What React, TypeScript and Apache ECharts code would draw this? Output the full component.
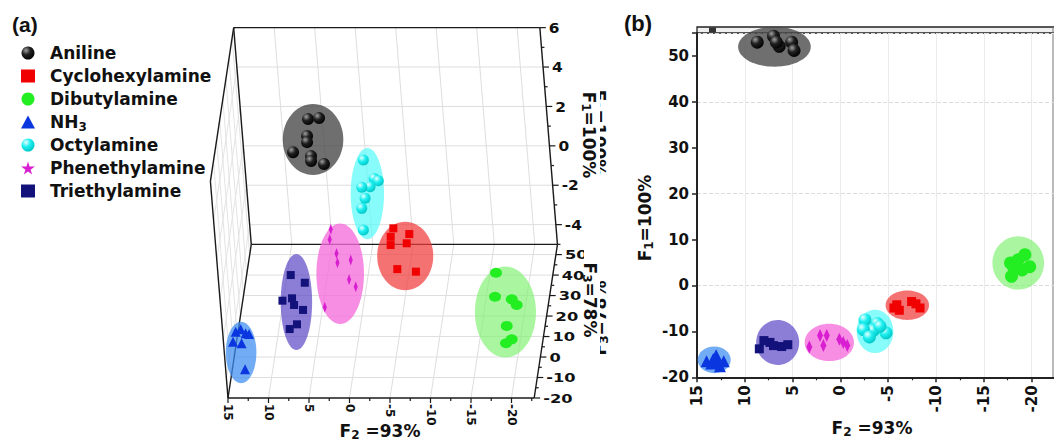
import React, { useEffect, useRef } from "react";
import * as echarts from "echarts";

const NAMES = ["Aniline", "Cyclohexylamine", "Dibutylamine", "NH3", "Octylamine", "Phenethylamine", "Triethylamine"];

// ---------- Panel (a): 3D scores [F2, F1, F3] ----------
const anilineA = [[6.56, 1.67, 52], [5.19, 1.72, 52], [6.85, 0.81, 52], [6.91, 0.5, 52], [8.74, -0.01, 52], [6.56, -0.21, 52], [6.6, -0.46, 52], [5.04, -0.61, 52]];
const cyclohexylamineA = [[-6.19, 1.98, -4.3], [-8.1, 1.69, -4.3], [-5.78, 1.55, -4.3], [-5.69, 1.13, -4.3], [-7.69, 1.22, -4.3], [-6.27, -0.09, -4.3], [-8.54, -0.22, -4.3]];
const dibutylamineA = [[-17.88, -1.23, 4.9], [-17.52, -2.45, 4.9], [-19.56, -2.58, 4.9], [-20.11, -2.87, 4.9], [-18.67, -3.93, 4.9], [-19.15, -4.61, 4.9], [-18.41, -4.81, 4.9]];
const nh3A = [[13.61, -2.03, -16.2], [12.97, -1.91, -16.2], [12.4, -2.11, -16.2], [14.04, -2.54, -16.2], [13.0, -2.62, -16.2], [12.83, -3.94, -16.2], [11.98, -2.15, -16.2]];
const octylamineA = [[-3.27, 5.62, -6], [-4.41, 4.69, -6], [-4.91, 4.57, -6], [-3.83, 4.27, -6], [-2.8, 4.24, -6], [-3.1, 3.68, -6], [-2.59, 3.17, -6], [-2.57, 2.07, -6]];
const phenethylamineA = [[1.07, 2.77, -12.4], [1.3, 2.26, -12.4], [0.6, 1.55, -12.4], [0.58, 1.08, -12.4], [-1.09, 1.21, -12.4], [-0.69, 0.23, -12.4], [-1.44, -0.14, -12.4], [2.59, -1.19, -12.4]];
const triethylamineA = [[6.47, 0.45, -12.4], [4.81, 0.06, -12.4], [7.75, -0.85, -12.4], [6.54, -0.73, -12.4], [6.36, -1.07, -12.4], [5.3, -1.32, -12.4], [7.14, -2.29, -12.4], [6.19, -2.05, -12.4]];
// cluster ellipses (a): [F2, F1, F3 centre, F2 radius, F1 radius]
const ellipsesA = [
  [6.15, 0.63, 52, 3.74, 1.8],
  [-7.38, 0.58, -4.3, 3.46, 1.74],
  [-18.65, -3.23, 4.9, 3.77, 2.31],
  [13.15, -3.09, -16.2, 1.89, 1.56],
  [-3.43, 3.92, -6, 2.06, 2.32],
  [0.35, 0.52, -12.4, 2.94, 2.55],
  [6.04, -0.92, -12.4, 1.94, 2.44],
];
const f2TicksA = [15, 10, 5, 0, -5, -10, -15, -20];
const f1TicksA = [-4, -2, 0, 2, 4, 6];
const f3TicksA = [-20, -10, 0, 10, 20, 30, 40, 50];
const F2_RANGE_A = [-22.8, 15];
const F1_RANGE_A = [-5, 6];
const F3_RANGE_A = [-20, 55];

// ---------- Panel (b): 2D scores [F2, F1] ----------
const anilineB = [[8.7, 53.0], [7.0, 54.3], [6.4, 52.1], [6.7, 53.0], [5.1, 53.0], [4.85, 51.2]];
const cyclohexylamineB = [[-5.6, -4.9], [-6.16, -5.4], [-5.9, -4.2], [-7.45, -3.5], [-7.9, -4.0], [-8.33, -4.9]];
const dibutylamineB = [[-17.8, 4.9], [-18.1, 4.1], [-19.3, 6.7], [-19.8, 4.1], [-17.9, 2.0], [-19.0, 3.4], [-18.6, 5.6]];
const nh3B = [[14.0, -16.5], [13.3, -16.0], [13.0, -15.2], [12.8, -16.8], [12.2, -16.5], [13.5, -17.0], [12.6, -17.6]];
const octylamineB = [[-2.57, -7.5], [-3.86, -8.3], [-3.44, -9.8], [-2.4, -9.6], [-3.03, -11.2], [-4.77, -10.3], [-4.14, -8.9]];
const phenethylamineB = [[3.25, -13.4], [2.13, -10.9], [1.43, -10.9], [1.78, -13.1], [0.11, -11.7], [-0.3, -12.4], [-0.72, -13.1]];
const triethylamineB = [[8.48, -13.8], [8.0, -12.0], [7.37, -12.4], [7.0, -13.1], [6.14, -13.3], [5.5, -12.9]];
// cluster ellipses (b): [F2 centre, F1 centre, F2 radius, F1 radius]
const ellipsesB = [
  [6.9, 52, 3.8, 4.35],
  [-7.0, -4.3, 2.27, 3.2],
  [-18.6, 4.9, 2.7, 5.8],
  [13.2, -16.2, 1.73, 2.9],
  [-3.62, -10.0, 1.92, 4.7],
  [1.16, -12.4, 2.58, 4.06],
  [6.56, -12.4, 2.25, 4.9],
];

const DATA_A = [anilineA, cyclohexylamineA, dibutylamineA, nh3A, octylamineA, phenethylamineA, triethylamineA];
const DATA_B = [anilineB, cyclohexylamineB, dibutylamineB, nh3B, octylamineB, phenethylamineB, triethylamineB];

// ---------- styles ----------
const FONT = "DejaVu Sans";
const SPHERE_BLACK = { type: "radial", x: 0.35, y: 0.3, r: 0.75, colorStops: [{ offset: 0, color: "#a0a0a0" }, { offset: 0.45, color: "#202020" }, { offset: 1, color: "#000" }] };
const SPHERE_CYAN = { type: "radial", x: 0.35, y: 0.3, r: 0.75, colorStops: [{ offset: 0, color: "#eaffff" }, { offset: 0.45, color: "#20f0f0" }, { offset: 1, color: "#00c4c4" }] };
const COLORS: any[] = [SPHERE_BLACK, "#f00000", "#22ee22", "#0a36e0", SPHERE_CYAN, "#d81ed0", "#12127a"];
const SYMBOLS = ["circle", "rect", "circle", "triangle", "circle", "diamond", "rect"];
const SIZE_A: any[] = [12, 8, [12, 10], 10, 11, [4, 11], 8];
const SIZE_B: any[] = [13, 9, 13, 12, 13, [6, 13], 9];
const ELLIPSE_COLORS = ["rgba(70,70,70,0.78)", "rgba(240,60,60,0.72)", "rgba(130,240,115,0.68)", "rgba(60,140,240,0.72)", "rgba(90,250,250,0.72)", "rgba(245,110,220,0.78)", "rgba(95,75,200,0.72)"];
const STAR = "path://M50,0 L61,35 L98,35 L68,57 L79,91 L50,70 L21,91 L32,57 L2,35 L39,35 Z";
const LEGEND_ICONS = ["circle", "rect", "circle", "triangle", "circle", STAR, "rect"];

// oblique projection of the 3D box (a) onto a 2D plane (u along F2, v along F1)
const K1 = 0.1975, K3X = 0.0383, K3Y = 0.104;
function project(f2: number, f1: number, f3: number) {
  return [f2 + (f1 - F1_RANGE_A[0]) * K1 - (f3 - F3_RANGE_A[0]) * K3X, f1 + (f3 - F3_RANGE_A[0]) * K3Y];
}

const frameRender = (params: any, api: any) => {
  const P = (a: number, b: number, c: number) => api.coord(project(a, b, c));
  const ch: any[] = [];
  const ln = (p: number[], q: number[], stroke: string, w: number) =>
    ch.push({ type: "line", shape: { x1: p[0], y1: p[1], x2: q[0], y2: q[1] }, style: { stroke, lineWidth: w } });
  const txt = (x: number, y: number, text: string, size: number, rot = 0, align = "left", sx = 1) =>
    ch.push({ type: "text", x, y, rotation: rot, scaleX: sx, style: { text, fill: "#111", fontSize: size, fontWeight: "bold", fontFamily: FONT, align, verticalAlign: "middle" } });
  const [x0, x1] = [F2_RANGE_A[1], F2_RANGE_A[0]];
  const [y0, y1] = F1_RANGE_A;
  const [z0, z1] = F3_RANGE_A;
  const G = "#dedede";
  // grid lines: back wall (F3 max)
  f1TicksA.filter((t) => t < y1).forEach((t) => ln(P(x0, t, z1), P(x1, t, z1), G, 1));
  f2TicksA.filter((t) => t < x0).forEach((t) => ln(P(t, y0, z1), P(t, y1, z1), G, 1));
  // floor (F1 min)
  f3TicksA.filter((t) => t > z0).forEach((t) => ln(P(x0, y0, t), P(x1, y0, t), G, 1));
  f2TicksA.filter((t) => t < x0).forEach((t) => ln(P(t, y0, z0), P(t, y0, z1), G, 1));
  // left wall (F2 max)
  f1TicksA.filter((t) => t < y1).forEach((t) => ln(P(x0, t, z0), P(x0, t, z1), "#e4e4e4", 1));
  f3TicksA.filter((t) => t > z0).forEach((t) => ln(P(x0, y0, t), P(x0, y1, t), "#e4e4e4", 1));
  // box edges
  const K = "#1a1a1a";
  ln(P(x0, y1, z1), P(x1, y1, z1), K, 1.4);
  ln(P(x0, y0, z1), P(x1, y0, z1), K, 1.4);
  ln(P(x1, y0, z1), P(x1, y1, z1), K, 1.4);
  ln(P(x1, y0, z0), P(x1, y0, z1), K, 1.4);
  ln(P(x0, y0, z0), P(x1, y0, z0), K, 1.4);
  ln(P(x0, y1, z1), P(x0, y1, z0), K, 1.4);
  ln(P(x0, y1, z0), P(x0, y0, z0), K, 1.4);
  ln(P(x0, y0, z0), P(x0, y0, z1), K, 1.4);
  ln(P(x0, y0, z1), P(x0, y1, z1), K, 1.4);
  // F1 axis ticks + labels
  for (let t = y0; t <= y1; t += 1) {
    const p = P(x1, t, z1);
    const major = f1TicksA.includes(t);
    ln(p, [p[0] + (major ? 6 : 3), p[1]], K, 1.2);
    if (major) txt(p[0] + 9, p[1], String(t), 14, 0, "left", 1.1);
  }
  // F3 axis ticks + labels
  for (let t = z0; t <= 50; t += 5) {
    const p = P(x1, y0, t);
    const major = f3TicksA.includes(t);
    ln(p, [p[0] + (major ? 6 : 3), p[1]], K, 1.2);
    if (major) txt(p[0] + 9, p[1], String(t), 13, 0, "left", 1.25);
  }
  // F2 axis ticks + labels
  for (let t = x0; t >= x1; t -= 2.5) {
    const p = P(t, y0, z0);
    const major = f2TicksA.includes(t);
    ln(p, [p[0], p[1] + (major ? 5 : 3)], K, 1.2);
    if (major) txt(p[0], p[1] + 6, String(t), 12, -Math.PI / 2, "left");
  }
  return { type: "group", children: ch };
};

const ellipseRender = (params: any, api: any) => {
  const c = api.coord([api.value(0), api.value(1)]);
  const s = api.size([api.value(2), api.value(3)]);
  return { type: "ellipse", shape: { cx: c[0], cy: c[1], rx: Math.abs(s[0]), ry: Math.abs(s[1]) }, style: { fill: ELLIPSE_COLORS[api.value(4)] } };
};

const subRich = { s: { fontSize: 12, fontWeight: "bold", fontFamily: FONT, lineHeight: 9, verticalAlign: "bottom" } };
const titleStyle = (text: string) => ({ text, fill: "#111", fontSize: 17, fontWeight: "bold", fontFamily: FONT, lineHeight: 19, align: "center", verticalAlign: "middle", rich: subRich });

export default function App() {
  const ref = useRef<HTMLDivElement>(null);
  useEffect(() => {
    const chart = echarts.init(ref.current!, null, { renderer: "svg" });
    const series: any[] = [];
    series.push({ type: "custom", name: "frameA", xAxisIndex: 0, yAxisIndex: 0, silent: true, z: 1, renderItem: frameRender, data: [[0, 0]] });
    series.push({
      type: "custom", name: "ellipsesA", xAxisIndex: 0, yAxisIndex: 0, silent: true, z: 2, renderItem: ellipseRender,
      data: ellipsesA.map((e, i) => { const c = project(e[0], e[1], e[2]); return [c[0], c[1], e[3], e[4], i]; }),
    });
    series.push({
      type: "custom", name: "ellipsesB", xAxisIndex: 1, yAxisIndex: 1, silent: true, z: 2, renderItem: ellipseRender,
      data: ellipsesB.map((e, i) => [e[0], e[1], e[2], e[3], i]),
    });
    NAMES.forEach((name, i) => {
      series.push({
        type: "scatter", name, xAxisIndex: 0, yAxisIndex: 0, z: 3, symbol: SYMBOLS[i], symbolSize: SIZE_A[i],
        itemStyle: { color: COLORS[i], opacity: 1 }, data: DATA_A[i].map((p) => project(p[0], p[1], p[2])),
      });
      series.push({
        type: "scatter", name, xAxisIndex: 1, yAxisIndex: 1, z: 3, symbol: SYMBOLS[i], symbolSize: SIZE_B[i],
        itemStyle: { color: COLORS[i], opacity: 1 }, data: DATA_B[i],
      });
    });

    const labelFont = { fontFamily: FONT, fontWeight: "bold", fontSize: 15, color: "#111" };
    chart.setOption({
      animation: false,
      backgroundColor: "#fff",
      legend: {
        orient: "vertical", left: 16, top: 37, itemGap: 1, itemWidth: 14, itemHeight: 13, selectedMode: false,
        data: NAMES.map((n, i) => ({ name: n, icon: LEGEND_ICONS[i], itemStyle: { color: COLORS[i] } })),
        formatter: (n: string) => (n === "NH3" ? "NH{s|3}" : n),
        textStyle: { fontFamily: FONT, fontWeight: "bold", fontSize: 17, color: "#111", lineHeight: 22, padding: [0, 0, 0, 10],
          rich: { s: { fontSize: 12, fontWeight: "bold", fontFamily: FONT, lineHeight: 11, verticalAlign: "bottom" } } },
      },
      grid: [
        { left: 187.5, top: 23.7, width: 364.5, height: 433.4, outerBoundsMode: "none", containLabel: false },
        { left: 697, top: 33, width: 382.4, height: 344.3, outerBoundsMode: "none", containLabel: false },
      ],
      xAxis: [
        { gridIndex: 0, type: "value", min: -25, max: 20, inverse: true, show: false },
        {
          gridIndex: 1, type: "value", min: -25, max: 15, interval: 5, inverse: true,
          axisLine: { onZero: false, lineStyle: { color: "#222", width: 2 } },
          axisTick: { length: 5, lineStyle: { color: "#222", width: 1.5 } },
          minorTick: { show: true, splitNumber: 2, length: 3, lineStyle: { color: "#222", width: 1.2 } },
          axisLabel: { ...labelFont, rotate: 90, margin: 8, formatter: (v: number) => (v < -22 ? "" : String(v)) },
          splitLine: { show: true, lineStyle: { color: "#ebebeb", width: 1 } },
        },
      ],
      yAxis: [
        { gridIndex: 0, type: "value", min: -8, max: 14, show: false },
        {
          gridIndex: 1, type: "value", min: -20, max: 55, interval: 10,
          axisLine: { show: true, onZero: false, lineStyle: { color: "#222", width: 2 } },
          axisTick: { show: true, length: 5, lineStyle: { color: "#222", width: 1.5 } },
          axisLabel: { ...labelFont, margin: 8, formatter: (v: number) => (v % 10 === 0 ? String(v) : "") },
          splitLine: { show: false },
        },
        {
          gridIndex: 1, type: "value", min: -20, max: 55, interval: 20,
          axisLine: { show: false, onZero: false }, axisTick: { show: false }, axisLabel: { show: false },
          splitLine: { show: true, lineStyle: { color: "#dcdcdc", type: "dashed", width: 1 } },
        },
      ],
      graphic: [
        { type: "text", x: 12, y: 14, style: { text: "(a)", fill: "#111", fontSize: 21, fontWeight: "bold", fontFamily: "Liberation Sans", align: "left", verticalAlign: "top" } },
        { type: "text", x: 624, y: 12, style: { text: "(b)", fill: "#111", fontSize: 22, fontWeight: "bold", fontFamily: "Liberation Sans", align: "left", verticalAlign: "top" } },
        { type: "text", x: 380, y: 431, style: titleStyle("F{s|2} =93%") },
        // left-over labels peeking out at the panel seam
        { type: "text", z: 1, x: 598.5, y: 133, rotation: -Math.PI / 2, style: titleStyle("F{s|1}=100%") },
        { type: "text", z: 1, x: 600, y: 318, rotation: Math.PI / 2, style: titleStyle("F{s|3}=78%") },
        { type: "rect", z: 2, shape: { x: 584, y: 85, width: 16, height: 280 }, style: { fill: "#fff" } },
        { type: "text", z: 3, x: 589, y: 135, rotation: -Math.PI / 2, style: titleStyle("F{s|1}=100%") },
        { type: "text", z: 3, x: 590, y: 300, rotation: -Math.PI / 2, style: titleStyle("F{s|3}=78%") },
        { type: "text", x: 872, y: 428, style: titleStyle("F{s|2} =93%") },
        { type: "text", x: 645, y: 218, rotation: Math.PI / 2, style: titleStyle("F{s|1}=100%") },
        { type: "rect", shape: { x: 697, y: 27, width: 370, height: 6 }, style: { fill: "#efefef", stroke: "#222", lineWidth: 1.3 } },
        { type: "rect", shape: { x: 709, y: 27.5, width: 7, height: 5 }, style: { fill: "#333" } },
        { type: "line", shape: { x1: 1053, y1: 27, x2: 1053, y2: 377 }, style: { stroke: "#777", lineWidth: 1 } },
      ],
      series,
    });
    return () => chart.dispose();
  }, []);
  return <div ref={ref} style={{ position: "absolute", left: 0, top: 0, width: 1054, height: 441 }} />;
}
